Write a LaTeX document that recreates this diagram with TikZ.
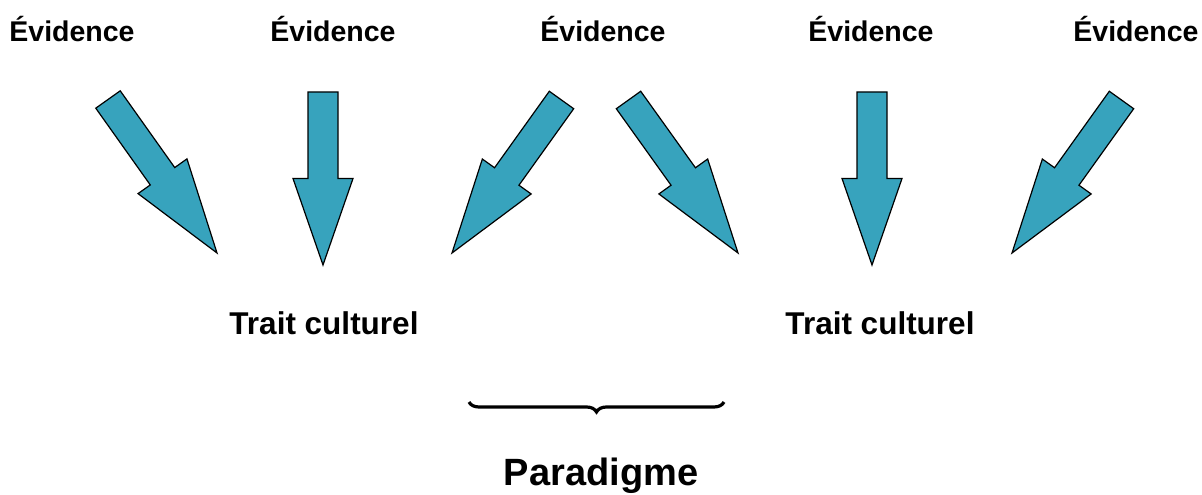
\documentclass[tikz,border=0pt]{standalone}
\usepackage{fontspec}
\setmainfont{Liberation Sans}
\usetikzlibrary{calc,decorations.pathreplacing}
\definecolor{evblue}{RGB}{55,163,189}

% block arrow from tail (#1) to tip (#2), head starts half way
\newcommand{\evarrow}[2]{%
  \path (#1) -- coordinate[pos=0.5] (#1h) (#2);
  \draw[evarr] ($(#1)!15pt!90:(#2)$) -- ($(#1h)!15pt!90:(#2)$)
    -- ($(#1h)!30pt!90:(#2)$) -- (#2) -- ($(#1h)!30pt!-90:(#2)$)
    -- ($(#1h)!15pt!-90:(#2)$) -- ($(#1)!15pt!-90:(#2)$) -- cycle;}

\begin{document}
\begin{tikzpicture}[
  x=1pt,y=1pt,
  evarr/.style={fill=evblue,draw=black,line width=1.2pt,line join=miter},
  evtext/.style={anchor=base,inner sep=0pt,font=\bfseries\fontsize{28.5}{30}\selectfont},
  traittext/.style={anchor=base,inner sep=0pt,font=\bfseries\fontsize{31.5}{33}\selectfont},
  paratext/.style={anchor=base,inner sep=0pt,font=\bfseries\fontsize{38}{40}\selectfont}
]
  \useasboundingbox (0,0) rectangle (1202,495);

  % Evidences
  \node [evtext] (ev1) at (72,453) {Évidence};
  \node [evtext] (ev2) at (333,453) {Évidence};
  \node [evtext] (ev3) at (603,453) {Évidence};
  \node [evtext] (ev4) at (871,453) {Évidence};
  \node [evtext] (ev5) at (1136,453) {Évidence};

  % Traits
  \node [traittext] (tr1) at (324,160) {Trait culturel};
  \node [traittext] (tr2) at (880,160) {Trait culturel};

  % arrow ends
  \coordinate (ta1) at (108,395.5);  \coordinate (tp1) at (217,242);
  \coordinate (ta2) at (323,403);    \coordinate (tp2) at (323,230);
  \coordinate (ta3) at (561.5,395);  \coordinate (tp3) at (452,242);
  \coordinate (ta4) at (628.5,395);  \coordinate (tp4) at (738,242);
  \coordinate (ta5) at (872,403);    \coordinate (tp5) at (872,230);
  \coordinate (ta6) at (1121.5,395); \coordinate (tp6) at (1012,242);

  \evarrow{ta1}{tp1}
  \evarrow{ta2}{tp2}
  \evarrow{ta3}{tp3}
  \evarrow{ta4}{tp4}
  \evarrow{ta5}{tp5}
  \evarrow{ta6}{tp6}

  % Paradigme
  \coordinate (brl) at (469,93);
  \coordinate (brr) at (724,93);
  \draw[decorate,decoration={brace,mirror,amplitude=10pt},line width=3.2pt] (brl) -- (brr);
  \node [paratext] (para) at (601,9) {Paradigme};
\end{tikzpicture}
\end{document}
